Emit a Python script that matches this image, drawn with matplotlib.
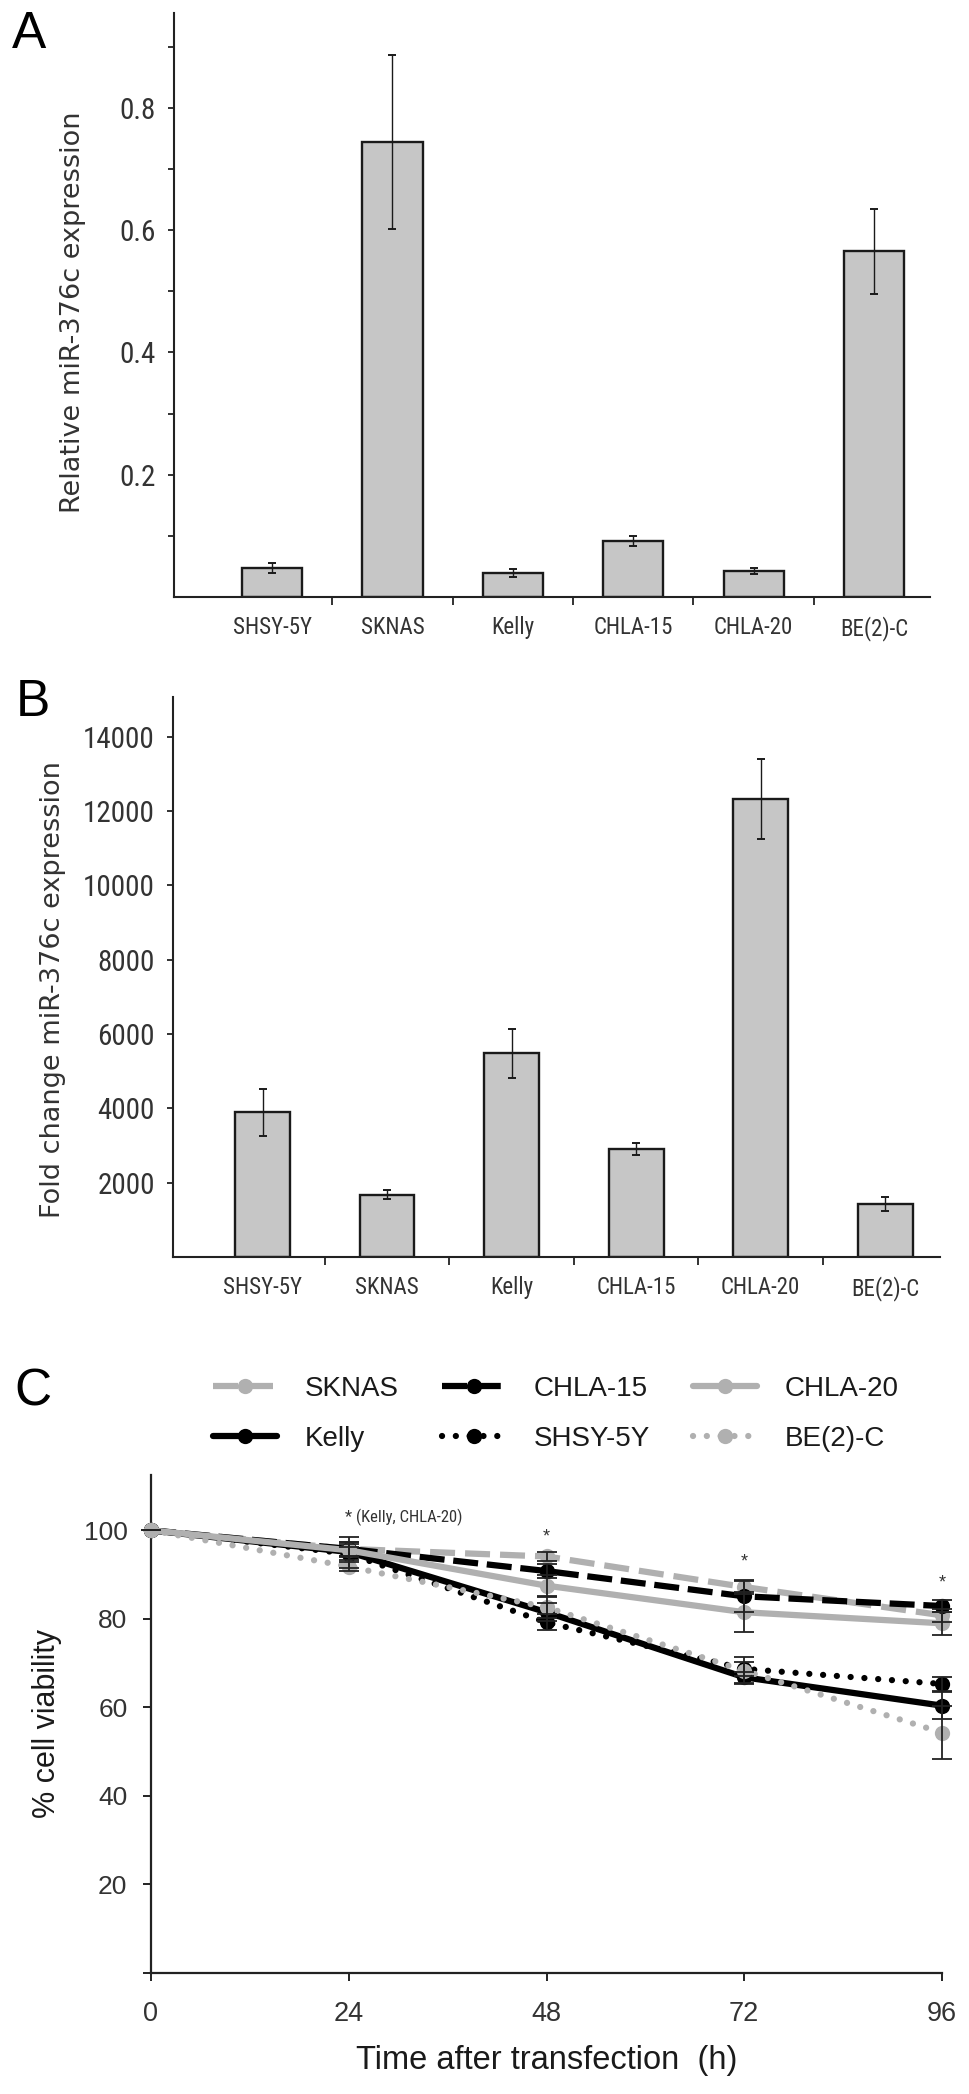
import numpy as np
import matplotlib
matplotlib.use('Agg')
import matplotlib.pyplot as plt
from matplotlib import font_manager

# ---- data ----
cell_lines = ['SHSY-5Y', 'SKNAS', 'Kelly', 'CHLA-15', 'CHLA-20', 'BE(2)-C']

rel_expr = [0.048, 0.744, 0.039, 0.092, 0.042, 0.565]
rel_err = [0.008, 0.142, 0.007, 0.008, 0.005, 0.069]

fold_expr = [3890, 1680, 5480, 2900, 12330, 1420]
fold_err = [630, 110, 660, 160, 1070, 190]

hours = [0, 24, 48, 72, 96]
via_sknas = [100, 95.8, 94.1, 87.2, 80.8]
via_chla15 = [100, 95.8, 90.8, 85.1, 82.9]
via_chla20 = [100, 95.5, 87.5, 81.5, 79.0]
via_kelly = [100, 95.1, 81.5, 66.8, 60.4]
via_shsy = [100, 94.7, 79.2, 68.7, 65.3]
via_be2c = [100, 91.8, 82.6, 68.3, 54.3]
err_sknas = [0, 1.5, 1.0, 1.5, 1.5]
err_chla15 = [0, 1.5, 1.5, 3.5, 1.3]
err_chla20 = [0, 1.5, 2.5, 4.5, 2.6]
err_kelly = [0, 3.5, 2.0, 1.2, 3.0]
err_shsy = [0, 1.5, 1.8, 1.5, 1.5]
err_be2c = [0, 1.0, 2.5, 3.0, 6.0]

star_hours = [48, 72, 96]
star_y = [98.4, 92.8, 88.0]

# ---- fonts ----
names = {f.name for f in font_manager.fontManager.ttflist}
narrow = None
for cand in ['Liberation Sans Narrow', 'Roboto Condensed', 'Open Sans Condensed', 'DejaVu Sans Condensed']:
    if cand in names:
        narrow = cand
        break
if narrow is None:
    narrow = 'Liberation Sans'
    scale = 0.82
else:
    scale = 1.0

plt.rcParams['font.family'] = ['Liberation Sans', 'DejaVu Sans']

W, H = 969, 2094
fig = plt.figure(figsize=(W / 100, H / 100), dpi=100)

def box(l, r, t, b):
    return [l / W, 1 - b / H, (r - l) / W, (b - t) / H]

txt = '#333333'
bar_c = '#c6c6c6'
grey = '#b0b0b0'

def bar_panel(ax, vals, errs, width, ylim, yticks, ylabels, xl, ylab, ylab_y, ylab_x):
    x = np.arange(len(cell_lines))
    ax.bar(x, vals, width=width, color=bar_c,
           edgecolor='#1a1a1a', linewidth=1.7, zorder=2)
    ax.errorbar(x, vals, yerr=errs, fmt='none', ecolor='#1a1a1a',
                elinewidth=1.0, capsize=3, capthick=1.4, zorder=3)
    ax.set_xlim(*xl)
    ax.set_ylim(*ylim)
    for s in ['top', 'right']:
        ax.spines[s].set_visible(False)
    for s in ['left', 'bottom']:
        ax.spines[s].set_linewidth(1.5)
        ax.spines[s].set_color('#222222')
    ax.set_yticks(yticks)
    ax.set_yticklabels(ylabels, fontfamily=narrow, fontsize=21 * scale, color=txt)
    ax.tick_params(axis='y', direction='out', length=4, width=1.3, pad=9, colors='#222222', labelcolor=txt)
    ax.set_xticks(x)
    ax.set_xticklabels(cell_lines, fontfamily=narrow, fontsize=16.5 * scale, color=txt)
    ax.tick_params(axis='x', which='major', length=0, pad=14)
    ax.set_xticks(x[:-1] + 0.5, minor=True)
    ax.tick_params(axis='x', which='minor', direction='out', length=6, width=1.3, colors='#222222')
    ax.set_ylabel(ylab, fontfamily='DejaVu Sans', fontsize=19.5, color=txt)
    ax.yaxis.set_label_coords(ylab_x, ylab_y)

# ---- panel A ----
axA = fig.add_axes(box(174, 930, 13, 597))
a_ticks = np.round(np.arange(0.1, 0.95, 0.1), 1)
a_labels = ['%.1f' % t if round(t * 10) % 2 == 0 else '' for t in a_ticks]
bar_panel(axA, rel_expr, rel_err, 0.5, (0, 0.955), a_ticks, a_labels,
          (-0.814, 5.465), 'Relative miR-376c expression', 0.488, -0.116)

# ---- panel B ----
axB = fig.add_axes(box(173, 940, 697, 1257))
b_ticks = np.arange(2000, 14001, 2000)
bar_panel(axB, fold_expr, fold_err, 0.44, (0, 15070), b_ticks, [str(t) for t in b_ticks],
          (-0.719, 5.44), 'Fold change miR-376c expression', 0.477, -0.14)

# ---- panel C ----
axC = fig.add_axes(box(151, 942, 1475, 1973))
dot = (0, (0.01, 2.2))
series = [
    ('SKNAS', via_sknas, err_sknas, grey, (0, (4.0, 1.6))),
    ('Kelly', via_kelly, err_kelly, 'black', '-'),
    ('CHLA-15', via_chla15, err_chla15, 'black', (0, (4.0, 1.4))),
    ('SHSY-5Y', via_shsy, err_shsy, 'black', dot),
    ('CHLA-20', via_chla20, err_chla20, grey, '-'),
    ('BE(2)-C', via_be2c, err_be2c, grey, dot),
]
handles = []
for name, vals, errs, col, ls in series:
    axC.errorbar(hours, vals, yerr=errs, fmt='none', ecolor='#222222',
                 elinewidth=1.3, capsize=7, capthick=1.3, zorder=4, clip_on=False)
    ln, = axC.plot(hours, vals, color=col, linestyle=ls, linewidth=4.5,
                   marker='o', markersize=11, markeredgewidth=0,
                   dash_capstyle='round' if ls is dot else 'butt',
                   solid_capstyle='round', zorder=3, clip_on=False, label=name)
    handles.append(ln)

axC.set_xlim(0, 96)
axC.set_ylim(0, 112.5)
for s in ['top', 'right']:
    axC.spines[s].set_visible(False)
for s in ['left', 'bottom']:
    axC.spines[s].set_linewidth(1.6)
    axC.spines[s].set_color('#222222')
axC.set_xticks(hours)
axC.set_xticklabels([str(h) for h in hours], fontsize=19.5, color=txt)
axC.set_yticks([0, 20, 40, 60, 80, 100])
axC.set_yticklabels(['', '20', '40', '60', '80', '100'], fontsize=19, color=txt)
axC.tick_params(axis='both', direction='out', length=6, width=1.4, colors='#222222', labelcolor=txt)
axC.tick_params(axis='x', pad=14)
axC.tick_params(axis='y', pad=11)
axC.set_xlabel('Time after transfection  (h)', fontsize=23.5, color='#1a1a1a')
axC.xaxis.set_label_coords(0.5, -0.145)
axC.set_ylabel('% cell viability', fontsize=22, color='#1a1a1a')
axC.yaxis.set_label_coords(-0.1125, 0.5)

axC.text(23.5, 102.9, '* (Kelly, CHLA-20)', fontfamily=narrow, fontsize=12 * scale,
         color=txt, ha='left', va='center')
for h, y in zip(star_hours, star_y):
    axC.text(h, y, '*', fontsize=13, color=txt, ha='center', va='center')

fig.legend(handles=handles, labels=[s[0] for s in series], ncol=3,
           loc='center', bbox_to_anchor=(556 / W, 1 - 1414 / H),
           frameon=False, fontsize=20, handlelength=2.3, handletextpad=1.0,
           columnspacing=1.55, labelspacing=0.85, borderpad=0,
           labelcolor='#1a1a1a')

# ---- panel letters ----
fig.text(12 / W, 1 - 34 / H, 'A', fontsize=37, va='center', ha='left', color='black')
fig.text(16 / W, 1 - 702 / H, 'B', fontsize=37, va='center', ha='left', color='black')
fig.text(14 / W, 1 - 1392 / H, 'C', fontsize=37, va='center', ha='left', color='black')

fig.savefig('out.png', dpi=100, facecolor='white')
